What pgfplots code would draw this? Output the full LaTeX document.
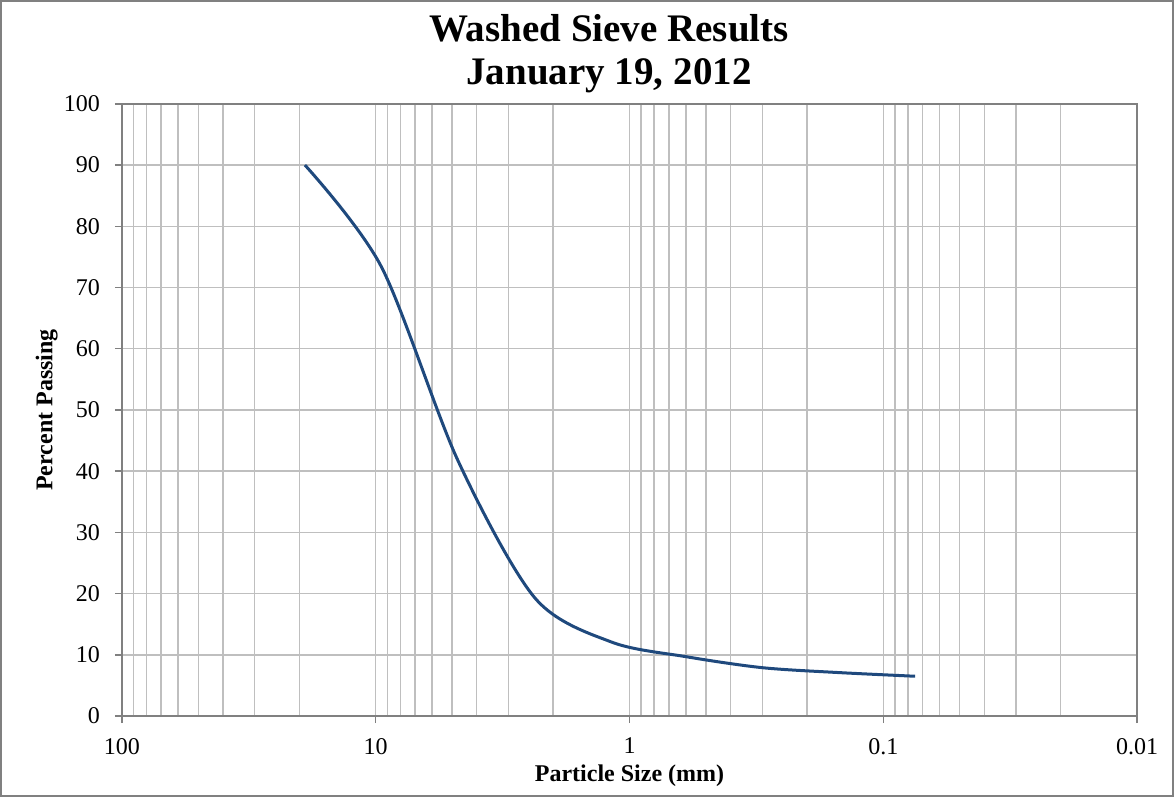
\documentclass[border=0pt]{standalone}
\usepackage{pgfplots}
\pgfplotsset{compat=1.18}
\usepackage{fontspec}
\setmainfont{Liberation Serif}
\definecolor{sieveline}{HTML}{1F497D}
\definecolor{gridgray}{HTML}{BFBFBF}
\begin{document}
\begin{tikzpicture}
\begin{axis}[
    scale only axis,
    width=507.5pt, height=306pt,
    xmode=log, x dir=reverse,
    xmin=0.01, xmax=100,
    ymin=0, ymax=100,
    xtick={0.01,0.1,1,10,100},
    xticklabels={0.01,0.1,1,10,100},
    minor xtick={0.02,0.03,0.04,0.05,0.06,0.07,0.08,0.09,
                 0.2,0.3,0.4,0.5,0.6,0.7,0.8,0.9,
                 2,3,4,5,6,7,8,9,20,30,40,50,60,70,80,90},
    ytick={0,10,...,100},
    grid=both,
    major grid style={gridgray, line width=0.7pt},
    minor grid style={gridgray, line width=0.7pt},
    axis line style={gray, line width=0.7pt},
    tick style={gray, line width=0.7pt},
    tick align=outside,
    major tick length=3.5pt,
    minor tick length=0pt,
    xtick pos=bottom, ytick pos=left,
    /pgf/number format/assume math mode=true,
    tick label style={font=\fontsize{12}{14}\selectfont},
    xticklabel style={yshift=-4pt},
    yticklabel style={xshift=-4pt},
    xlabel={Particle Size (mm)},
    ylabel={Percent Passing},
    xlabel style={font=\bfseries\fontsize{12}{14}\selectfont, at={(axis description cs:0.5,-0.098)}, anchor=center},
    ylabel style={font=\bfseries\fontsize{12}{14}\selectfont, at={(axis description cs:-0.074,0.5)}, anchor=center},
]
\addplot[color=sieveline, line width=1.5pt, smooth, tension=0.5] coordinates {
    (19, 90)
    (9.5, 73.4)
    (4.75, 41.8)
    (2.36, 19.3)
    (1.18, 12.1)
    (0.6, 9.7)
    (0.3, 7.9)
    (0.15, 7.1)
    (0.075, 6.5)
};
\end{axis}
\draw[gray, line width=0.8pt] (-60.5pt,-40pt) rectangle (525.5pt,357.5pt);
\node[font=\bfseries\fontsize{19.5}{21.5}\selectfont, align=center] at (243.5pt,331pt) {Washed Sieve Results\\January 19, 2012};
\end{tikzpicture}
\end{document}
